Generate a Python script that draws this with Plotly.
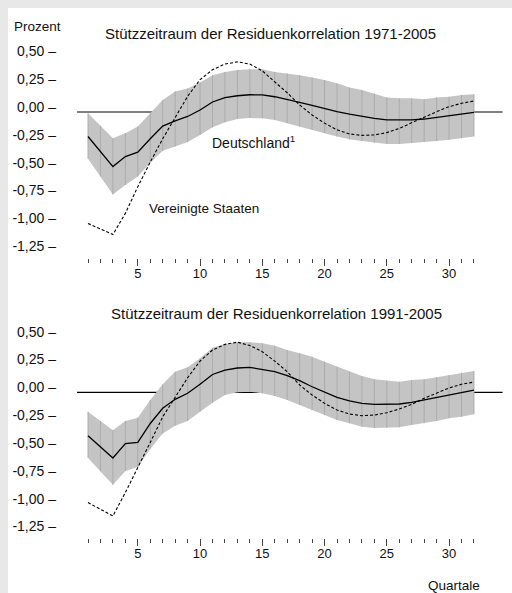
import plotly.graph_objects as go

# ---------------- data ----------------
quartale = list(range(1, 33))

y_tickvals = [0.5, 0.25, 0.0, -0.25, -0.5, -0.75, -1.0, -1.25]
y_ticktext = ["0,50 –", "0,25 –", "0,00 –", "-0,25 –", "-0,50 –", "-0,75 –", "-1,00 –", "-1,25 –"]
x_tickvals = [5, 10, 15, 20, 25, 30]

titles = ["Stützzeitraum der Residuenkorrelation 1971-2005",
          "Stützzeitraum der Residuenkorrelation 1991-2005"]

# Panel 1 (1971-2005)
p1_de = [-0.22, -0.36, -0.49, -0.40, -0.36, -0.24, -0.126, -0.08, -0.04, 0.018, 0.09, 0.13,
         0.146, 0.155, 0.153, 0.137, 0.114, 0.087, 0.06, 0.03, 0.003, -0.02, -0.04, -0.057,
         -0.07, -0.072, -0.07, -0.063, -0.048, -0.033, -0.018, -0.003]
p1_hi = [-0.012, -0.124, -0.236, -0.19, -0.13, -0.012, 0.108, 0.185, 0.21, 0.265, 0.33, 0.36,
         0.377, 0.383, 0.383, 0.36, 0.347, 0.33, 0.31, 0.287, 0.257, 0.22, 0.197, 0.167,
         0.13, 0.123, 0.123, 0.114, 0.13, 0.137, 0.153, 0.159]
p1_lo = [-0.42, -0.58, -0.74, -0.655, -0.58, -0.455, -0.347, -0.31, -0.27, -0.206, -0.138, -0.093,
         -0.063, -0.054, -0.057, -0.072, -0.10, -0.13, -0.16, -0.19, -0.22, -0.245, -0.26, -0.275,
         -0.287, -0.287, -0.28, -0.27, -0.26, -0.25, -0.236, -0.22]
p1_us = [-1.0, -1.05, -1.10, -0.91, -0.67, -0.45, -0.24, -0.05, 0.14, 0.29, 0.38, 0.43,
         0.45, 0.43, 0.37, 0.27, 0.173, 0.063, -0.027, -0.10, -0.16, -0.197, -0.21, -0.206,
         -0.185, -0.147, -0.096, -0.048, 0.003, 0.048, 0.078, 0.099]

# Panel 2 (1991-2005)
p2_de = [-0.39, -0.49, -0.59, -0.46, -0.45, -0.28, -0.144, -0.063, -0.009, 0.072, 0.16, 0.20,
         0.218, 0.224, 0.206, 0.185, 0.149, 0.104, 0.05, 0.0, -0.045, -0.078, -0.099, -0.108,
         -0.108, -0.105, -0.09, -0.069, -0.045, -0.024, 0.0, 0.02]
p2_hi = [-0.174, -0.257, -0.34, -0.258, -0.228, -0.069, 0.072, 0.185, 0.224, 0.305, 0.40, 0.434,
         0.449, 0.449, 0.44, 0.418, 0.38, 0.35, 0.32, 0.275, 0.23, 0.185, 0.146, 0.117,
         0.104, 0.095, 0.11, 0.117, 0.135, 0.155, 0.176, 0.191]
p2_lo = [-0.59, -0.71, -0.83, -0.706, -0.67, -0.51, -0.37, -0.30, -0.258, -0.174, -0.093, -0.024,
         0.0, 0.006, -0.009, -0.033, -0.069, -0.114, -0.159, -0.204, -0.249, -0.278, -0.309, -0.32,
         -0.32, -0.314, -0.293, -0.278, -0.258, -0.233, -0.219, -0.197]
p2_us = [-0.99, -1.05, -1.11, -0.90, -0.68, -0.45, -0.22, -0.05, 0.13, 0.28, 0.38, 0.43,
         0.45, 0.42, 0.364, 0.28, 0.185, 0.066, -0.024, -0.099, -0.159, -0.195, -0.21, -0.204,
         -0.183, -0.15, -0.108, -0.054, -0.006, 0.039, 0.072, 0.092]

# ---------------- layout helpers ----------------
W, H = 512, 593
FONT = "Liberation Sans, Arial, sans-serif"
BAND = "#c4c4c4"
BAND_LINE = "#acacac"
TEXT = "#111111"
TICK = "#444444"


def px_x(p):
    return p / W


def px_y(p):
    return 1 - p / H


fig = go.Figure()

panels = [
    dict(de=p1_de, hi=p1_hi, lo=p1_lo, us=p1_us, xa="x", ya="y", xl="x3"),
    dict(de=p2_de, hi=p2_hi, lo=p2_lo, us=p2_us, xa="x2", ya="y2", xl="x4"),
]

for p in panels:
    xa, ya = p["xa"], p["ya"]
    fig.add_trace(go.Scatter(x=quartale, y=p["hi"], mode="lines", line=dict(width=0, color=BAND),
                             xaxis=xa, yaxis=ya, hoverinfo="skip", showlegend=False))
    fig.add_trace(go.Scatter(x=quartale, y=p["lo"], mode="lines", line=dict(width=0, color=BAND),
                             fill="tonexty", fillcolor=BAND,
                             xaxis=xa, yaxis=ya, hoverinfo="skip", showlegend=False))
    vx, vy = [], []
    for q, lo, hi in zip(quartale, p["lo"], p["hi"]):
        vx += [q, q, None]
        vy += [lo, hi, None]
    fig.add_trace(go.Scatter(x=vx, y=vy, mode="lines", line=dict(width=1, color=BAND_LINE),
                             xaxis=xa, yaxis=ya, hoverinfo="skip", showlegend=False))
    fig.add_trace(go.Scatter(x=quartale, y=p["de"], mode="lines", name="Deutschland",
                             line=dict(width=1.3, color="black"),
                             xaxis=xa, yaxis=ya, showlegend=False))
    fig.add_trace(go.Scatter(x=quartale, y=p["us"], mode="lines", name="Vereinigte Staaten",
                             line=dict(width=1.1, color="black", dash="3px,2px"),
                             xaxis=xa, yaxis=ya, showlegend=False))
    # invisible carrier trace so the overlay (long-tick) axis is instantiated
    fig.add_trace(go.Scatter(x=quartale, y=p["de"], mode="lines", line=dict(width=0),
                             opacity=0, xaxis=p["xl"], yaxis=ya,
                             hoverinfo="skip", showlegend=False))

# axes geometry (pixels)
x_dom = [px_x(60), px_x(505)]
x_rng = [-1.249, 34.494]
y1_dom = [px_y(257.5), px_y(40)]
y1_rng = [(112 - 257.5) / 111.4, (112 - 40) / 111.4]
y2_dom = [px_y(537.8), px_y(320)]
y2_rng = [(392.3 - 537.8) / 111.4, (392.3 - 320) / 111.4]

# labelled axis: short ticks everywhere (labels sit close to the ticks)
xcommon = dict(range=x_rng, domain=x_dom, showgrid=False, zeroline=False, showline=False,
               tickmode="array", tickvals=x_tickvals, ticks="outside", ticklen=4,
               tickwidth=1, tickcolor=TICK,
               minor=dict(tickmode="array", tickvals=quartale, ticks="outside", ticklen=4,
                          tickwidth=1, tickcolor=TICK),
               tickfont=dict(family=FONT, size=13, color=TEXT), fixedrange=True)
# overlay axis: long ticks at every 5th quarter, no labels
xlong = dict(range=x_rng, domain=x_dom, showgrid=False, zeroline=False, showline=False,
             tickmode="array", tickvals=x_tickvals, ticks="outside", ticklen=7.5,
             tickwidth=1, tickcolor=TICK, showticklabels=False, fixedrange=True)
ycommon = dict(showgrid=False, zeroline=False, showline=False, ticks="",
               tickmode="array", tickvals=y_tickvals, ticktext=y_ticktext,
               ticklabelshift=-5, ticklabelstandoff=3,
               tickfont=dict(family=FONT, size=14, color=TEXT), fixedrange=True)

fig.update_layout(
    width=W, height=H,
    margin=dict(l=0, r=0, t=0, b=0),
    paper_bgcolor="white", plot_bgcolor="rgba(0,0,0,0)",
    xaxis=dict(anchor="y", **xcommon),
    yaxis=dict(anchor="x", domain=y1_dom, range=y1_rng, **ycommon),
    xaxis2=dict(anchor="y2", **xcommon),
    yaxis2=dict(anchor="x2", domain=y2_dom, range=y2_rng, **ycommon),
    xaxis3=dict(anchor="y", overlaying="x", **xlong),
    xaxis4=dict(anchor="y2", overlaying="x2", **xlong),
    showlegend=False,
)

shapes = [
    dict(type="rect", xref="paper", yref="paper", x0=0, x1=1, y0=px_y(8), y1=1,
         fillcolor="#e8e8e8", line=dict(width=0), layer="below"),
    dict(type="rect", xref="paper", yref="paper", x0=0, x1=px_x(8), y0=0, y1=1,
         fillcolor="#e8e8e8", line=dict(width=0), layer="below"),
]
for xa, ya in [("x", "y"), ("x2", "y2")]:
    shapes.append(dict(type="line", xref=xa, yref=ya, x0=0.12, x1=34.3, y0=0, y1=0,
                       line=dict(color="black", width=1.2), layer="below"))
fig.update_layout(shapes=shapes)

ann = []


def text(t, x, y, size, xanchor="center"):
    ann.append(dict(text=t, x=px_x(x), y=px_y(y), xref="paper", yref="paper",
                    xanchor=xanchor, yanchor="middle", showarrow=False,
                    font=dict(family=FONT, size=size, color=TEXT)))


text(titles[0], 270, 33, 15)
text(titles[1], 276, 313, 15)
text("Prozent", 12, 26, 13.5, "left")
text("Quartale", 426, 585, 13.5, "left")
text("Deutschland<sup>1</sup>", 210, 141.5, 14, "left")
text("Vereinigte Staaten", 147, 208.5, 13.5, "left")
fig.update_layout(annotations=ann)

fig.write_html(
    "out.html",
    config={"displayModeBar": False},
    post_script="document.body.style.margin='0';document.body.style.padding='0';"
                "document.body.style.overflow='hidden';",
)
